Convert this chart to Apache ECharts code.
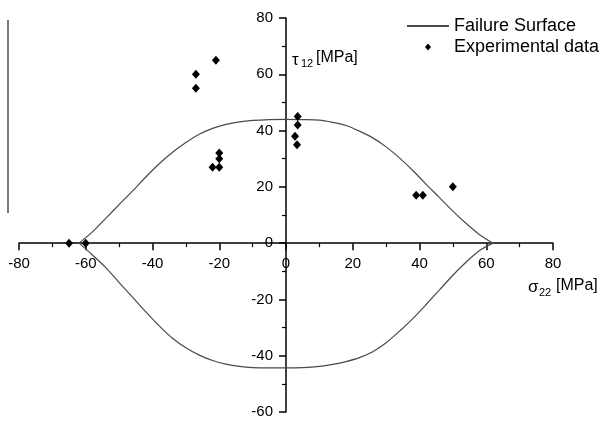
<!DOCTYPE html>
<html>
<head>
<meta charset="utf-8">
<script src="https://cdn.jsdelivr.net/npm/echarts@6/dist/echarts.min.js"></script>
<style>
  html, body { margin: 0; padding: 0; background: #fff; }
  #chart { width: 605px; height: 421px; }
</style>
</head>
<body>
<div id="chart"></div>
<script>
// Failure surface in the sigma22 / tau12 plane (MPa)
const surfaceSigma = [-62, -58, -54, -50, -46, -42, -38, -34, -30, -26, -22, -18, -14, -10, -5, 0,
                      5, 10, 14, 18, 22, 26, 30, 34, 38, 42, 46, 50, 54, 58, 62];
const surfaceTauUpper = [0, 4.0, 8.8, 13.7, 18.5, 23.5, 28.2, 32.3, 35.8, 38.7, 40.8, 42.2, 43.1, 43.6, 43.9, 44.0,
                         43.9, 43.7, 42.9, 41.8, 39.8, 37.4, 34.2, 30.3, 25.8, 20.9, 16.2, 11.4, 7.0, 3.0, 0];
const surfaceTauLower = [0, -4.2, -8.7, -14.0, -19.2, -24.4, -29.4, -33.8, -37.2, -39.8, -41.7, -43.0, -43.8, -44.2, -44.3, -44.3,
                         -44.2, -43.8, -43.1, -42.1, -40.7, -38.6, -35.4, -31.3, -26.8, -21.8, -16.6, -11.4, -6.7, -2.6, 0];

// Experimental failure points
const expSigma = [-65, -60, -27, -27, -21, -20, -20, -22, -20, 3.5, 3.5, 2.7, 3.3, 39, 41, 50];
const expTau   = [0, 0, 60, 55, 65, 32, 30, 27, 27, 45, 42, 38, 35, 17, 17, 20];

// Axis ranges and tick step
const sigmaRange = [-80, 80];
const tauRange = [-60, 80];
const tickStep = 20;

const seriesNames = ['Failure Surface', 'Experimental data'];
const FONT = '"Liberation Sans", Arial, Helvetica, sans-serif';

const upperData = surfaceSigma.map((s, i) => [s, surfaceTauUpper[i]]);
const lowerData = surfaceSigma.map((s, i) => [s, surfaceTauLower[i]]);
const expData = expSigma.map((s, i) => [s, expTau[i]]);

// plot box in pixels; axes are moved inward so they cross at the origin
const W = 605, H = 421;
const box = { left: 19, right: 52, top: 18, bottom: 9 };
const plotW = W - box.left - box.right;
const plotH = H - box.top - box.bottom;
const xAxisShift = -plotH * (0 - tauRange[0]) / (tauRange[1] - tauRange[0]);
const yAxisShift = -plotW * (0 - sigmaRange[0]) / (sigmaRange[1] - sigmaRange[0]);

const chart = echarts.init(document.getElementById('chart'), null, { renderer: 'canvas' });

const axisCommon = {
  type: 'value',
  axisLine: { onZero: false, lineStyle: { color: '#000', width: 1.5 } },
  axisTick: { show: true, inside: false, length: 7, lineStyle: { color: '#000', width: 1.5 } },
  minorTick: { show: true, splitNumber: 2, length: 4, lineStyle: { color: '#000', width: 1.2 } },
  splitLine: { show: false },
  minorSplitLine: { show: false },
  axisLabel: { color: '#000', fontSize: 15, fontFamily: FONT }
};

const surfaceLine = {
  name: seriesNames[0],
  type: 'line',
  symbol: 'none',
  smooth: 0.3,
  lineStyle: { color: '#4a4a4a', width: 1.2 },
  itemStyle: { color: '#4a4a4a' },
  z: 2
};

chart.setOption({
  animation: false,
  backgroundColor: '#fff',
  grid: Object.assign({ containLabel: false, outerBoundsMode: 'none' }, box),
  xAxis: Object.assign({}, axisCommon, {
    position: 'bottom',
    offset: xAxisShift,
    min: sigmaRange[0], max: sigmaRange[1], interval: tickStep,
    axisLabel: Object.assign({}, axisCommon.axisLabel, { margin: 13 })
  }),
  yAxis: Object.assign({}, axisCommon, {
    position: 'left',
    offset: yAxisShift,
    min: tauRange[0], max: tauRange[1], interval: tickStep,
    axisLabel: Object.assign({}, axisCommon.axisLabel, { margin: 13 })
  }),
  legend: {
    orient: 'vertical',
    left: 401, top: 12,
    itemWidth: 42, itemHeight: 7, itemGap: 3,
    textStyle: { fontSize: 18, color: '#000', fontFamily: FONT },
    data: [
      { name: seriesNames[0], itemStyle: { opacity: 0 } },
      // small diamond centred in the 42px icon slot
      { name: seriesNames[1], icon: 'path://M0,3.5L0,3.5Z M18,3.5L21,0L24,3.5L21,7Z M42,3.5L42,3.5Z' }
    ]
  },
  series: [
    Object.assign({}, surfaceLine, { data: upperData }),
    Object.assign({}, surfaceLine, { data: lowerData }),
    {
      name: seriesNames[1],
      type: 'scatter',
      data: expData,
      symbol: 'diamond',
      symbolSize: [8, 9],
      itemStyle: { color: '#000', opacity: 1 },
      z: 3
    }
  ],
  graphic: [
    { type: 'line', shape: { x1: 8, y1: 20, x2: 8, y2: 213 }, style: { stroke: '#7a7a7a', lineWidth: 2 } },
    { type: 'text', x: 292, y: 60, style: { text: 'τ', font: '17px ' + FONT, fill: '#000', verticalAlign: 'middle' } },
    { type: 'text', x: 301, y: 64, style: { text: '12', font: '11px ' + FONT, fill: '#000', verticalAlign: 'middle' } },
    { type: 'text', x: 316, y: 58, style: { text: '[MPa]', font: '16px ' + FONT, fill: '#000', verticalAlign: 'middle' } },
    { type: 'text', x: 528, y: 287, style: { text: 'σ', font: '17px ' + FONT, fill: '#000', verticalAlign: 'middle' } },
    { type: 'text', x: 539, y: 293, style: { text: '22', font: '11px ' + FONT, fill: '#000', verticalAlign: 'middle' } },
    { type: 'text', x: 556, y: 286, style: { text: '[MPa]', font: '16px ' + FONT, fill: '#000', verticalAlign: 'middle' } }
  ]
});
</script>
</body>
</html>
